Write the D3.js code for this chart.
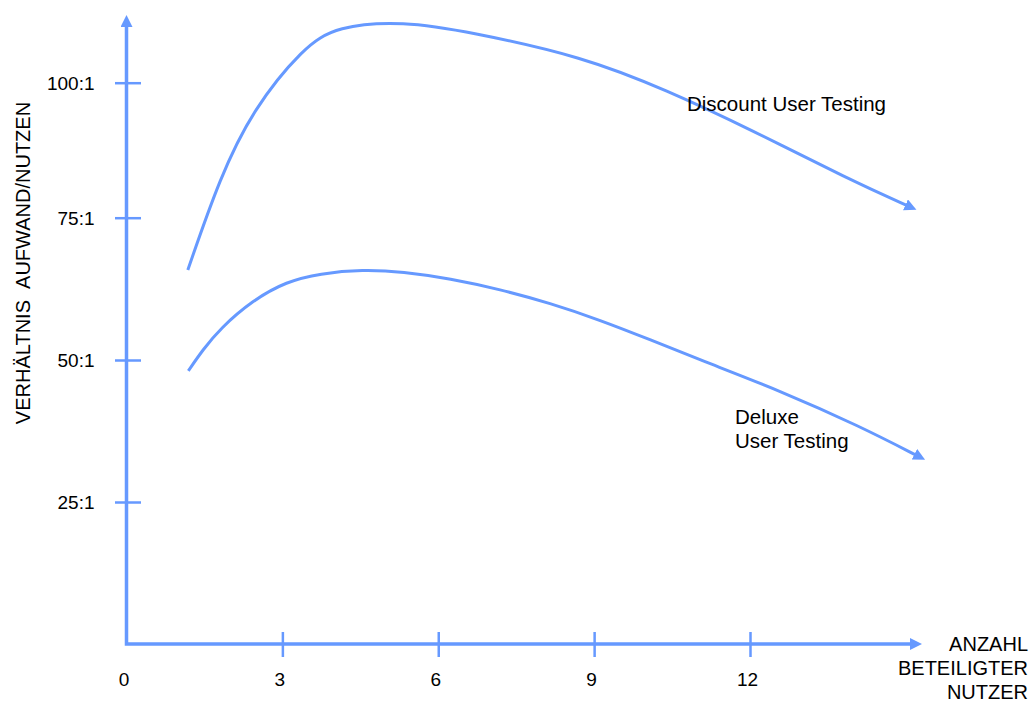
<!DOCTYPE html>
<html>
<head>
<meta charset="utf-8">
<script src="https://cdn.jsdelivr.net/npm/d3@7"></script>
<style>
  html, body { margin: 0; padding: 0; background: #fff; }
  svg { display: block; font-family: Arial, "Liberation Sans", sans-serif; }
</style>
</head>
<body>
<svg id="chart" width="1032" height="702"></svg>
<script>
// ---- data ----
const xTickValues = [0, 3, 6, 9, 12];
const xTickLabels = ["0", "3", "6", "9", "12"];
const yTickValues = [25, 50, 75, 100];
const yTickLabels = ["25:1", "50:1", "75:1", "100:1"];

const discountUsers = [1.18, 1.80, 2.43, 3.40, 4.05, 5.32, 6.61, 8.79, 10.40, 12.0, 13.92, 15.08];
const discountRatio = [65.8, 82.5, 95.0, 106.5, 110.5, 111.4, 109.4, 104.8, 98.6, 91.4, 82.0, 77.0];

const deluxeUsers = [1.19, 1.47, 1.80, 2.43, 3.08, 3.72, 4.55, 5.32, 6.23, 7.19, 8.15, 9.12, 10.07, 11.04, 12.58, 14.12, 15.25];
const deluxeRatio = [48.1, 51.8, 55.5, 60.5, 63.8, 65.2, 65.9, 65.5, 64.3, 62.4, 60.0, 57.0, 53.6, 50.0, 44.6, 38.3, 33.0];

const seriesLabels = { discount: ["Discount User Testing"], deluxe: ["Deluxe", "User Testing"] };
const yTitle = "VERHÄLTNIS\u00A0\u00A0AUFWAND/NUTZEN";
const xTitle = ["ANZAHL", "BETEILIGTER", "NUTZER"];

// ---- layout ----
const blue = "#6699ff";
const svg = d3.select("#chart");

const x = d3.scaleLinear().domain([0, 12]).range([126.5, 750]);
const y = d3.scaleLinear().domain([0, 25, 50, 75, 100]).range([644, 502, 360, 217.7, 82.7]);

const defs = svg.append("defs");
defs.append("marker")
  .attr("id", "arrow")
  .attr("viewBox", "0 0 12 12")
  .attr("refX", 5).attr("refY", 6)
  .attr("markerWidth", 12).attr("markerHeight", 12)
  .attr("markerUnits", "userSpaceOnUse")
  .attr("orient", "auto-start-reverse")
  .append("path")
  .attr("d", "M0,0 L12,6 L0,12 Z")
  .attr("fill", blue);

// axes lines with arrows
const yTop = 22, xRight = 915;
svg.append("path")
  .attr("d", `M${x(0)},${yTop} L${x(0)},${y(0)} L${xRight},${y(0)}`)
  .attr("fill", "none")
  .attr("stroke", blue)
  .attr("stroke-width", 3.5)
  .attr("marker-start", "url(#arrow)")
  .attr("marker-end", "url(#arrow)");

// y axis ticks
const yAxis = d3.axisLeft(y).tickValues(yTickValues)
  .tickFormat((d, i) => yTickLabels[i]).tickSizeOuter(0);
const gy = svg.append("g").attr("transform", `translate(${x(0)},0)`).call(yAxis);
gy.select(".domain").remove();
gy.selectAll(".tick line").attr("x1", -11.5).attr("x2", 14.5)
  .attr("stroke", blue).attr("stroke-width", 2.5);
gy.selectAll(".tick text").attr("x", -32).attr("dy", "0.36em")
  .attr("font-size", 19).attr("fill", "#000")
  .attr("font-family", "Arial, 'Liberation Sans', sans-serif");

// x axis ticks
const xAxis = d3.axisBottom(x).tickValues(xTickValues)
  .tickFormat((d, i) => xTickLabels[i]).tickSizeOuter(0);
const gx = svg.append("g").attr("transform", `translate(0,${y(0)})`).call(xAxis);
gx.select(".domain").remove();
gx.selectAll(".tick line").attr("y1", -12).attr("y2", 13)
  .attr("stroke", blue).attr("stroke-width", 2.5)
  .attr("display", d => d === 0 ? "none" : null);
gx.selectAll(".tick text").attr("y", 42).attr("dy", 0).attr("dx", -3)
  .attr("font-size", 19).attr("fill", "#000")
  .attr("font-family", "Arial, 'Liberation Sans', sans-serif");

// curves
const line = d3.line().x(d => x(d[0])).y(d => y(d[1])).curve(d3.curveBasis);
const discount = d3.zip(discountUsers, discountRatio);
const deluxe = d3.zip(deluxeUsers, deluxeRatio);

[discount, deluxe].forEach(data => {
  svg.append("path")
    .datum(data)
    .attr("d", line)
    .attr("fill", "none")
    .attr("stroke", blue)
    .attr("stroke-width", 3)
    .attr("marker-end", "url(#arrow)");
});

// labels
function multiText(lines, tx, ty, lh, anchor, size) {
  const t = svg.append("text")
    .attr("x", tx).attr("y", ty)
    .attr("font-size", size || 20).attr("fill", "#000")
    .attr("text-anchor", anchor || "start");
  lines.forEach((s, i) => {
    t.append("tspan").attr("x", tx).attr("dy", i === 0 ? 0 : lh).text(s);
  });
  return t;
}
multiText(seriesLabels.discount, 687, 111, 24, "start", 20.5);
multiText(seriesLabels.deluxe, 735, 424, 24, "start", 20.5);

multiText(xTitle, 1028, 651, 24, "end", 20);

svg.append("text")
  .attr("transform", `translate(30,263) rotate(-90)`)
  .attr("text-anchor", "middle")
  .attr("font-size", 20).attr("fill", "#000")
  .text(yTitle);
</script>
</body>
</html>
